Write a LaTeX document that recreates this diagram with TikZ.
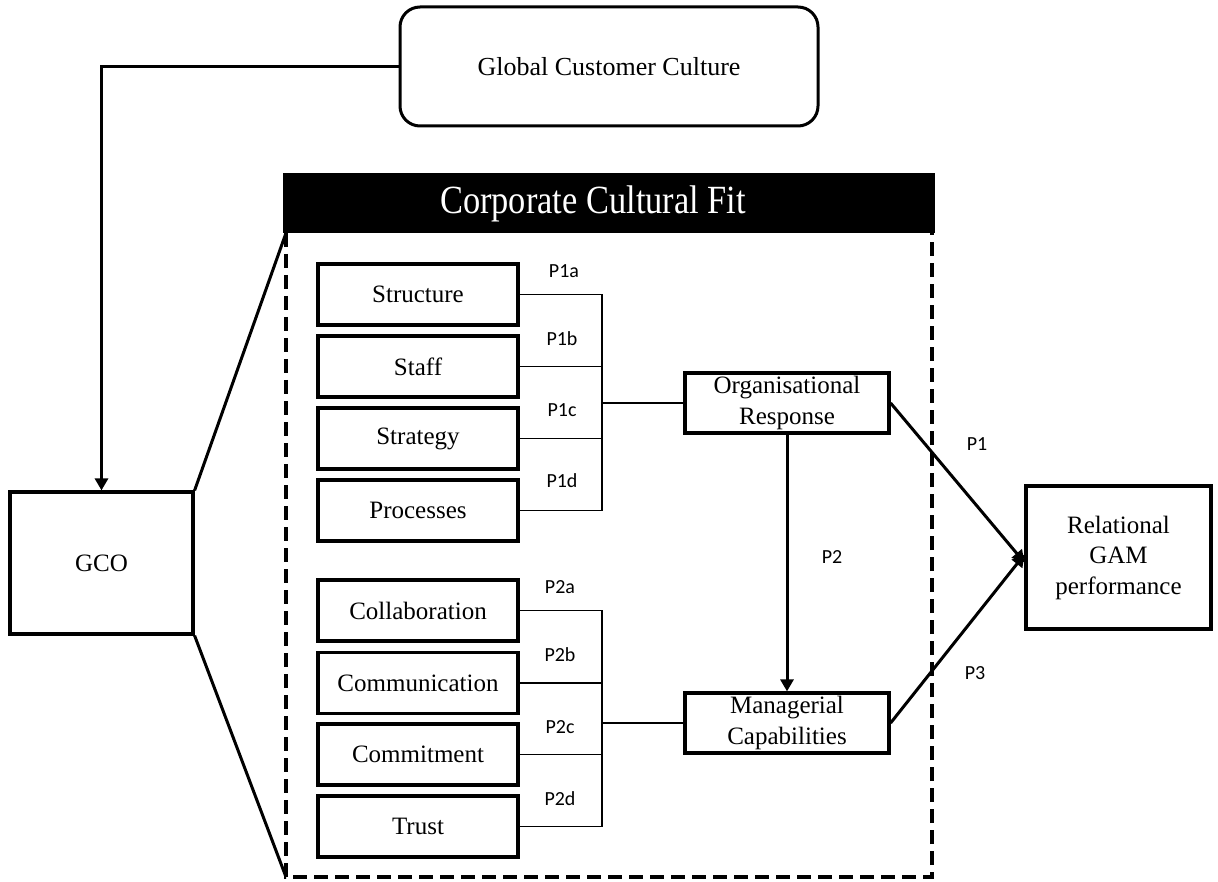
\documentclass[tikz,border=0pt]{standalone}
\usepackage{fontspec}
\setmainfont{Liberation Serif}
\newfontfamily\labelfont{Carlito}
\usetikzlibrary{arrows.meta}

\tikzset{
  box/.style={draw, line width=3.2pt, inner sep=0pt, align=center,
    font=\fontsize{25}{30.5}\selectfont},
  item/.style={box, minimum width=200pt, minimum height=61pt},
  hub/.style={box, minimum width=204pt, minimum height=60pt},
  bracket/.style={line width=1.8pt},
  link/.style={line width=3pt},
  arrowline/.style={line width=3pt, -{Triangle[width=13pt,length=12pt]}},
  plabel/.style={font=\labelfont\fontsize{20}{24}\selectfont, inner sep=0pt},
  frame/.style={line width=4pt, dash pattern=on 14pt off 7pt},
}

\begin{document}
\begin{tikzpicture}[x=1pt, y=-1pt]
\useasboundingbox (0,0) rectangle (1218,882);

% outer drivers
\node[box, rounded corners=20pt, line width=3pt, minimum width=418pt, minimum height=119pt,
  font=\fontsize{26}{31}\selectfont]
  (gcc) at (609,66.5) {Global Customer Culture};
\node[box, minimum width=183pt, minimum height=142pt] (gco) at (101.5,563) {GCO};
\node[box, minimum width=185pt, minimum height=143pt] (rel) at (1118.5,557.5)
  {Relational\\GAM\\performance};

% corporate cultural fit panel
\node[fill=black, minimum width=652pt, minimum height=60pt, inner sep=0pt] (head) at (609,203) {};
\node[text=white, inner sep=0pt, font=\fontsize{40}{48}\selectfont] (title) at (593,204)
  {\scalebox{0.86}[1]{Corporate Cultural Fit}};
\coordinate (fTL) at (286,233);
\coordinate (fBL) at (286,877);
\coordinate (fBR) at (932,877);
\coordinate (fTR) at (932,233);
\draw[frame] (fTL) -- (fBL) -- (fBR) -- (fTR);

% panel items
\node[item] (s1) at (418,294.5) {Structure};
\node[item] (s2) at (418,366.5) {Staff};
\node[item] (s3) at (418,438.5) {Strategy};
\node[item] (s4) at (418,510.5) {Processes};
\node[item] (c1) at (418,610.5) {Collaboration};
\node[item] (c2) at (418,683) {Communication};
\node[item] (c3) at (418,754.5) {Commitment};
\node[item] (c4) at (418,826.5) {Trust};

\node[hub] (org) at (787,403) {Organisational\\Response};
\node[hub] (mgr) at (787,723) {Managerial\\Capabilities};

% brackets joining the items
\coordinate (j1) at (602,403);
\coordinate (j2) at (602,723);
\foreach \n in {s1,s2,s3,s4} \draw[bracket] (\n.east) -| (j1);
\foreach \n in {c1,c2,c3,c4} \draw[bracket] (\n.east) -| (j2);
\draw[bracket] (j1) -- (org.west);
\draw[bracket] (j2) -- (mgr.west);

\node[plabel] (l1a) at (564,271) {P1a};
\node[plabel] (l1b) at (562,339) {P1b};
\node[plabel] (l1c) at (562,410) {P1c};
\node[plabel] (l1d) at (562,481) {P1d};
\node[plabel] (l2a) at (560,587) {P2a};
\node[plabel] (l2b) at (560,655) {P2b};
\node[plabel] (l2c) at (560,727) {P2c};
\node[plabel] (l2d) at (560,799) {P2d};

% relations
\draw[arrowline] (gcc.west) -| (gco.north);
\draw[link] (gco.north east) -- (fTL);
\draw[link] (gco.south east) -- (fBL);
\draw[arrowline] (org.south) -- (mgr.north);
\draw[arrowline] (org.east) -- ([yshift=-5pt]rel.west);
\draw[arrowline] (mgr.east) -- ([yshift=3pt]rel.west);

\node[plabel] (p1) at (977,444) {P1};
\node[plabel] (p2) at (832,557) {P2};
\node[plabel] (p3) at (975,673) {P3};
\end{tikzpicture}
\end{document}
